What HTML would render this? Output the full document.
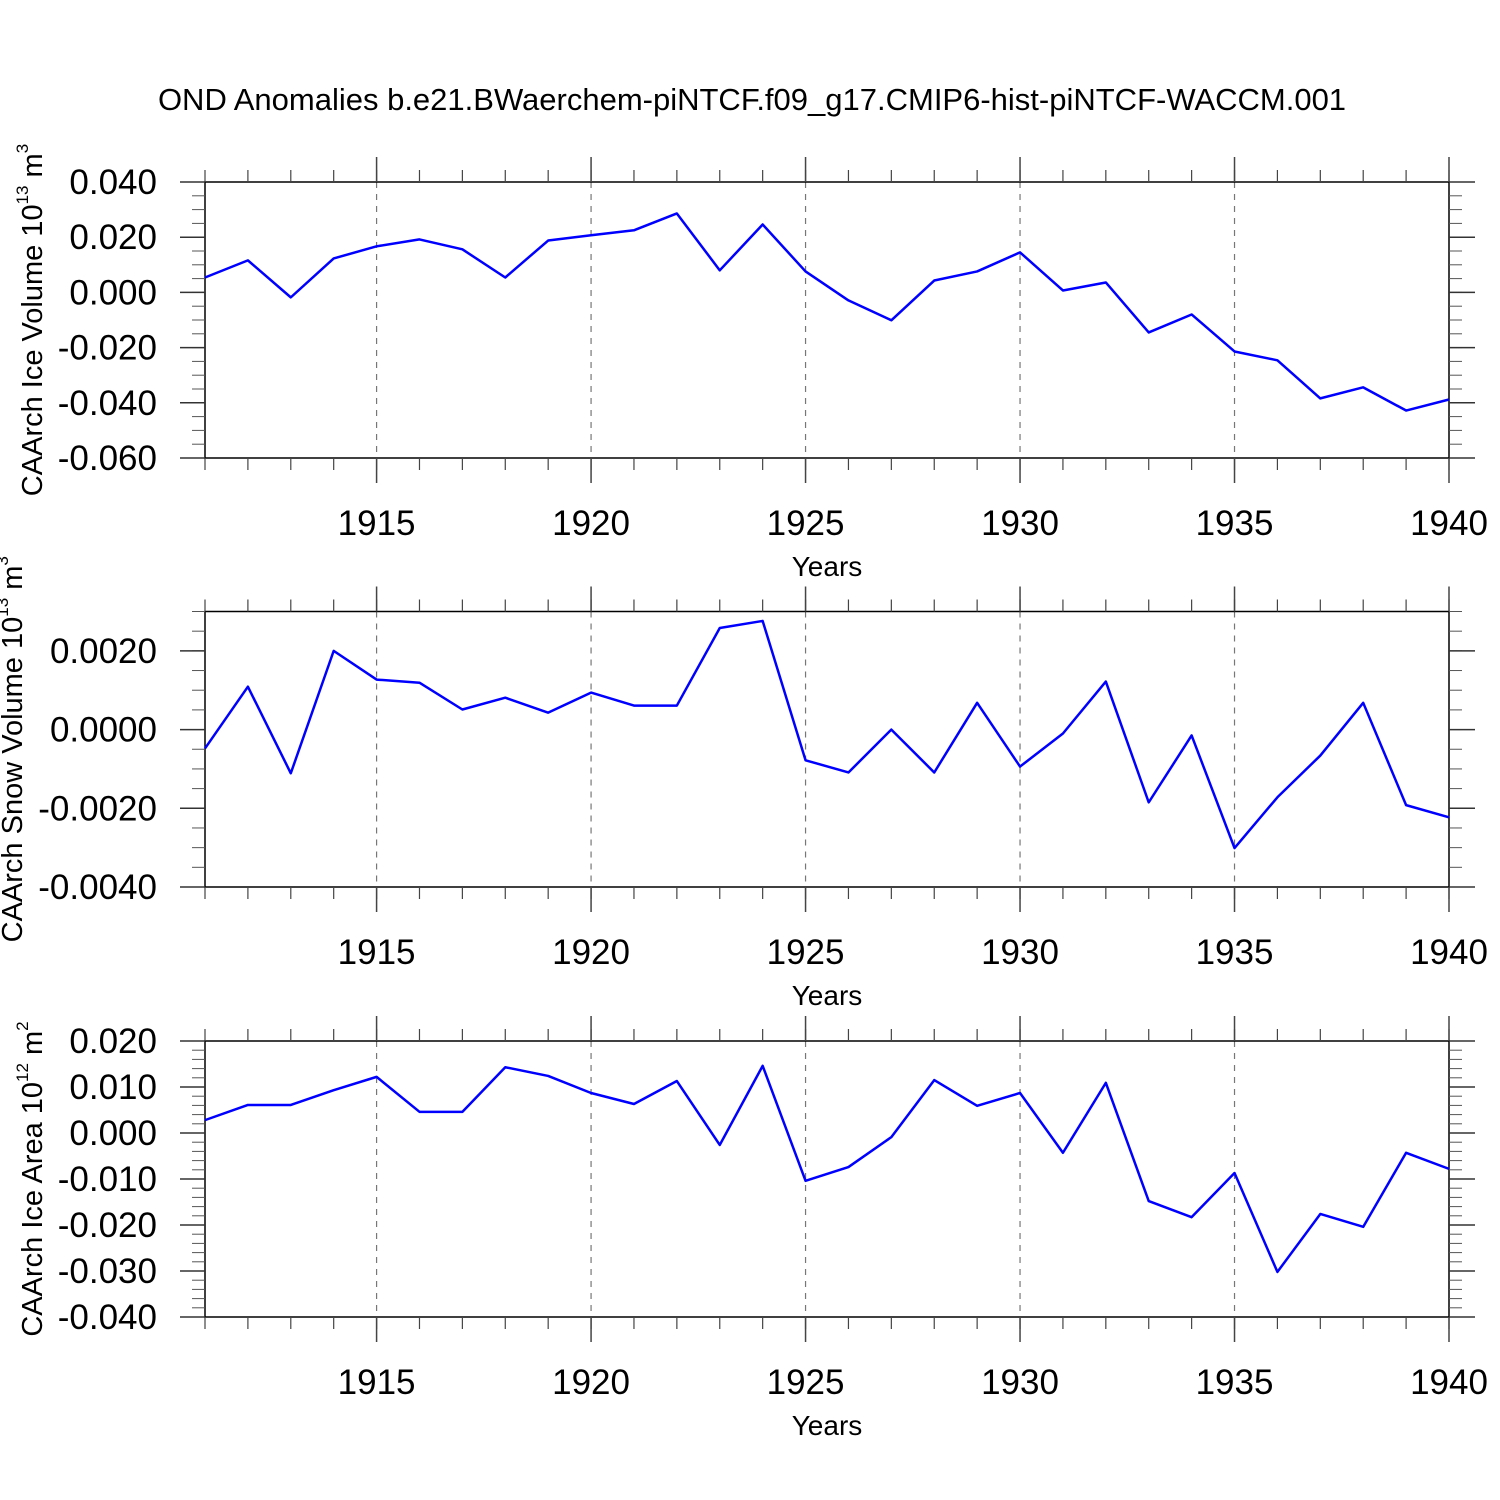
<!DOCTYPE html>
<html><head><meta charset="utf-8"><style>
body{margin:0;background:#fff}
svg{display:block;font-family:"Liberation Sans",sans-serif}
</style></head><body>
<svg id="c" width="1500" height="1500" viewBox="0 0 1500 1500" xmlns="http://www.w3.org/2000/svg">
<text x="752" y="110" font-size="31" text-anchor="middle">OND Anomalies b.e21.BWaerchem-piNTCF.f09_g17.CMIP6-hist-piNTCF-WACCM.001</text>
</svg>
<script>
const years = [1911,1912,1913,1914,1915,1916,1917,1918,1919,1920,1921,1922,1923,1924,1925,1926,1927,1928,1929,1930,1931,1932,1933,1934,1935,1936,1937,1938,1939,1940];
const iceVolume = [0.0054,0.0116,-0.0018,0.0123,0.0167,0.0192,0.0156,0.0054,0.0188,0.0207,0.0225,0.0286,0.0080,0.0246,0.0076,-0.0029,-0.0101,0.0043,0.0076,0.0145,0.0007,0.0036,-0.0145,-0.0080,-0.0214,-0.0246,-0.0384,-0.0344,-0.0428,-0.0388];
const snowVolume = [-0.00048,0.00109,-0.00111,0.00200,0.00127,0.00119,0.00051,0.00081,0.00043,0.00094,0.00061,0.00061,0.00258,0.00276,-0.00078,-0.00109,0,-0.00109,0.00068,-0.00094,-0.0001,0.00122,-0.00185,-0.00015,-0.00301,-0.00172,-0.00066,0.00068,-0.00192,-0.00223];
const iceArea = [0.0028,0.0061,0.0061,0.0093,0.0122,0.0046,0.0046,0.0143,0.0124,0.0087,0.0063,0.0113,-0.0026,0.0146,-0.0104,-0.0074,-0.0009,0.0115,0.0059,0.0087,-0.0043,0.0109,-0.0148,-0.0183,-0.0087,-0.0302,-0.0176,-0.0204,-0.0043,-0.0078];
const xTicks = [1915,1920,1925,1930,1935,1940];
const yTicks1 = [0.04,0.02,0,-0.02,-0.04,-0.06];
const yTicks2 = [0.002,0,-0.002,-0.004];
const yTicks3 = [0.02,0.01,0,-0.01,-0.02,-0.03,-0.04];

const svg=document.getElementById('c');
const NS='http://www.w3.org/2000/svg';
function mk(t,a,p){const e=document.createElementNS(NS,t);for(const k in a)e.setAttribute(k,a[k]);(p||svg).appendChild(e);return e;}
const X0=205,X1=1449;
function xs(y){return X0+(y-1911)/(1940-1911)*(X1-X0);}

function panel(id,top,bot,ymin,ymax,yt,dec,minorStep,vals,title,sup,tx0){
  const g=mk('g',{});
  
  
  const ys=v=>bot-(v-ymin)/(ymax-ymin)*(bot-top);
  xTicks.forEach(t=>{if(t<1940){const l=mk('line',{x1:xs(t),x2:xs(t),y1:top,y2:bot,stroke:'#777','stroke-width':1.2,'stroke-dasharray':'6,6'},g);}});
  const r=mk('rect',{x:X0,y:top,width:X1-X0,height:bot-top,fill:'none',stroke:'#000','stroke-width':1.5},g);
  
  years.forEach(y=>{const x=xs(y);mk('line',{x1:x,x2:x,y1:top,y2:top-12,stroke:'#444','stroke-width':1.2},g);mk('line',{x1:x,x2:x,y1:bot,y2:bot+12,stroke:'#444','stroke-width':1.2},g);});
  xTicks.forEach(t=>{const x=xs(t);mk('line',{x1:x,x2:x,y1:top,y2:top-25,stroke:'#444','stroke-width':1.5},g);mk('line',{x1:x,x2:x,y1:bot,y2:bot+25,stroke:'#444','stroke-width':1.5},g);
    const tx=mk('text',{x:x,y:bot+77,'font-size':35,'text-anchor':'middle'},g);tx.textContent=t;
    });
  for(let v=ymin;v<=ymax+1e-9;v+=minorStep){const y=ys(v);mk('line',{x1:X0,x2:X0-13,y1:y,y2:y,stroke:'#555','stroke-width':1},g);mk('line',{x1:X1,x2:X1+13,y1:y,y2:y,stroke:'#555','stroke-width':1},g);}
  yt.forEach(v=>{const y=ys(v);mk('line',{x1:X0,x2:180,y1:y,y2:y,stroke:'#333','stroke-width':1.5},g);mk('line',{x1:X1,x2:1475,y1:y,y2:y,stroke:'#333','stroke-width':1.5},g);
    const tx=mk('text',{x:157,y:y+12,'font-size':35,'text-anchor':'end'},g);tx.textContent=(Math.abs(v)<1e-12?0:v).toFixed(dec);
    });
  const p=mk('polyline',{points:years.map((y,i)=>xs(y)+','+ys(vals[i])).join(' '),fill:'none',stroke:'#0000ff','stroke-width':2.5,'stroke-linejoin':'round'},g);
  
  const xl=mk('text',{x:827,y:bot+118,'font-size':28,'text-anchor':'middle'},g);xl.textContent='Years';
  
  const cy=(top+bot)/2;
  const yl=mk('text',{x:0,y:0,'font-size':29,'text-anchor':'middle',transform:`translate(${tx0},${cy}) rotate(-90)`},g);
  
  yl.innerHTML=title+' 10<tspan font-size="17" dy="-14">'+sup[0]+'</tspan><tspan dy="14"> m</tspan><tspan font-size="17" dy="-14">'+sup[1]+'</tspan>';
}
panel('ice-volume-panel',182,458,-0.06,0.04,yTicks1,3,0.005,iceVolume,'CAArch Ice Volume',['13','3'],42);
panel('snow-volume-panel',611.5,887,-0.004,0.003,yTicks2,4,0.0005,snowVolume,'CAArch Snow Volume',['13','3'],22);
panel('ice-area-panel',1041,1317,-0.04,0.02,yTicks3,3,0.002,iceArea,'CAArch Ice Area',['12','2'],42);
</script>
</body></html>
